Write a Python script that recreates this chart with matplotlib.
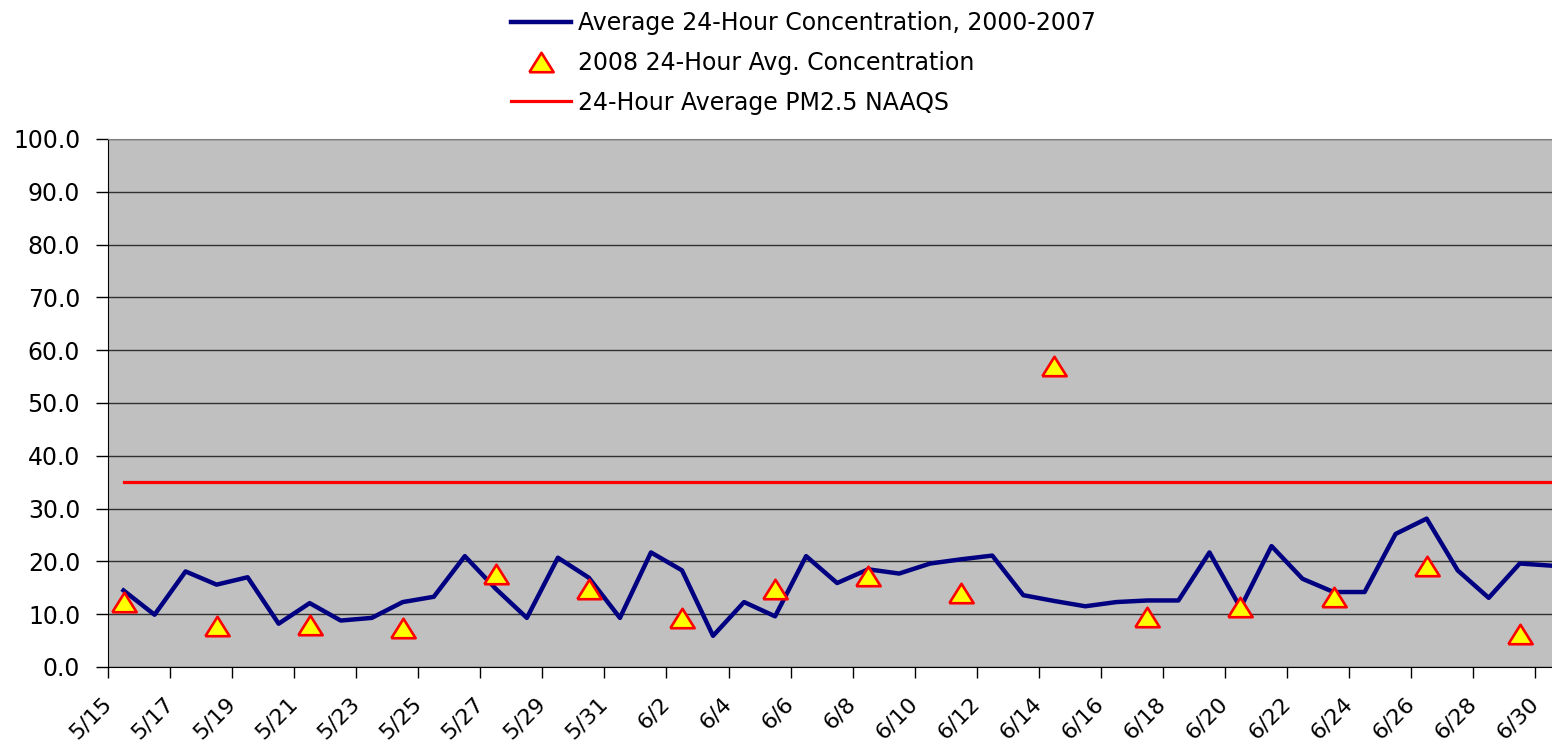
import numpy as np
import pandas as pd
import matplotlib.pyplot as plt
from matplotlib.transforms import ScaledTranslation

plt.rcParams['font.family'] = ['DejaVu Sans']

# daily categories, 5/15 - 6/30
days = pd.date_range('2008-05-15', '2008-06-30')
day_labels = [f'{d.month}/{d.day}' for d in days]

# average 24-hour concentration 2000-2007, one value per day
avg_2000_2007 = [14.5, 9.9, 18.1, 15.6, 17.0, 8.2, 12.1, 8.8, 9.3, 12.3,
                 13.3, 21.0, 14.8, 9.3, 20.7, 16.9, 9.3, 21.7, 18.3, 5.9,
                 12.3, 9.6, 21.0, 15.9, 18.5, 17.7, 19.6, 20.4, 21.1, 13.6,
                 12.5, 11.5, 12.3, 12.6, 12.6, 21.7, 11.2, 22.9, 16.7, 14.2,
                 14.2, 25.2, 28.1, 18.3, 13.1, 19.6, 19.2]

# 2008 samples (every third day)
obs_2008_days = ['5/15', '5/18', '5/21', '5/24', '5/27', '5/30', '6/2', '6/5',
                 '6/8', '6/11', '6/14', '6/17', '6/20', '6/23', '6/26', '6/29']
obs_2008 = [12.4, 7.7, 8.0, 7.4, 17.7, 14.7, 9.2, 14.8,
            17.3, 14.0, 57.0, 9.5, 11.4, 13.3, 19.2, 6.3]

naaqs_24h = 35.0

W, H = 1552, 744
fig = plt.figure(figsize=(W / 100, H / 100), dpi=100)
ax = fig.add_axes([108 / W, 77 / H, 1444 / W, 528 / H])
ax.set_facecolor('#c0c0c0')

# slightly wide triangle like the excel marker
tri = [(-1.25, -1), (1.25, -1), (0, 1), (-1.25, -1)]

x = np.arange(len(day_labels))
ax.plot(x, avg_2000_2007, color='#000080', lw=3.2, zorder=3,
        label='Average 24-Hour Concentration, 2000-2007')
xi = [day_labels.index(d) for d in obs_2008_days]
ax.plot(xi, obs_2008, ls='none', marker=tri, ms=17.5, mfc='#ffff00',
        mec='#ff0000', mew=1.9, zorder=4,
        label='2008 24-Hour Avg. Concentration')
ax.plot([0, len(day_labels)], [naaqs_24h, naaqs_24h], color='#ff0000', lw=2.3,
        zorder=3, label='24-Hour Average PM2.5 NAAQS')

ax.set_xlim(-0.5, 46.04)
ax.set_ylim(0, 100)
yt = np.arange(0, 101, 10)
ax.set_yticks(yt, [f'{v:.1f}' for v in yt], fontsize=17)
ax.yaxis.grid(True, color='#303030', lw=1)
ax.set_axisbelow(True)

ax.set_xticks(np.arange(-0.5, 46, 2), day_labels[0::2], fontsize=16,
              rotation=45, ha='right', va='center', rotation_mode='anchor')
shift = ScaledTranslation(-5 / 100, 0, fig.dpi_scale_trans)
for lbl in ax.get_xticklabels():
    lbl.set_transform(lbl.get_transform() + shift)

ax.tick_params(axis='y', length=9, width=1, pad=11)
ax.tick_params(axis='x', length=8, width=1, pad=16)
ax.spines['right'].set_visible(False)
ax.spines['top'].set_color('#808080')
ax.spines['left'].set_color('black')
ax.spines['bottom'].set_color('black')

fig.legend(loc='upper left', bbox_to_anchor=(511 / W, 1 - 11 / H),
           frameon=False, fontsize=17, borderpad=0, borderaxespad=0,
           handlelength=2.55, handletextpad=0.3, labelspacing=0.67)

fig.savefig('out.png', dpi=100)
